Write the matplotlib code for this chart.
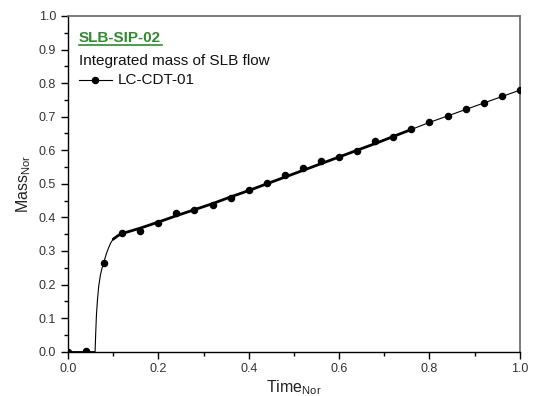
import matplotlib
matplotlib.use("Agg")
import matplotlib.pyplot as plt
from matplotlib.ticker import MultipleLocator

plt.rcParams['font.family'] = ['Liberation Sans', 'DejaVu Sans']
plt.rcParams['mathtext.fontset'] = 'custom'
plt.rcParams['mathtext.rm'] = 'Liberation Sans'

# Marker series (LC-CDT-01)
marker_time = [0.00, 0.04, 0.08, 0.12, 0.16, 0.20, 0.24, 0.28, 0.32, 0.36, 0.40, 0.44, 0.48,
               0.52, 0.56, 0.60, 0.64, 0.68, 0.72, 0.76, 0.80, 0.84, 0.88, 0.92, 0.96, 1.00]
marker_mass = [0.000, 0.002, 0.265, 0.352, 0.360, 0.382, 0.414, 0.421, 0.438, 0.458, 0.483, 0.501, 0.527,
               0.546, 0.568, 0.580, 0.597, 0.628, 0.640, 0.663, 0.684, 0.702, 0.722, 0.741, 0.761, 0.779]

# Integrated mass of SLB flow (continuous curve)
line_time = [0.000, 0.060, 0.0615, 0.063, 0.065, 0.068, 0.072, 0.076, 0.080, 0.085, 0.090, 0.095,
             0.100, 0.110, 0.120, 0.160, 0.200, 0.240, 0.280, 0.320, 0.360, 0.400, 0.440,
             0.480, 0.520, 0.560, 0.600, 0.640, 0.680, 0.720, 0.760, 0.800, 0.900, 1.000]
line_mass = [0.000, 0.000, 0.060, 0.110, 0.150, 0.195, 0.230, 0.252, 0.270, 0.292, 0.310, 0.325,
             0.335, 0.345, 0.352, 0.368, 0.386, 0.405, 0.423, 0.441, 0.461, 0.480, 0.500,
             0.520, 0.540, 0.560, 0.580, 0.600, 0.620, 0.641, 0.662, 0.683, 0.731, 0.779]
noisy_start, noisy_end = 0.10, 0.76

fig = plt.figure(figsize=(5.37, 3.96), dpi=100)
ax = fig.add_axes([0.1266, 0.112, 0.8414, 0.8476])

ax.plot(line_time, line_mass, color='black', lw=0.8, zorder=2)
seg_t = [t for t in line_time if noisy_start <= t <= noisy_end]
seg_m = [m for t, m in zip(line_time, line_mass) if noisy_start <= t <= noisy_end]
ax.plot(seg_t, seg_m, color='black', lw=2.0, solid_capstyle='round', zorder=2)
ax.plot(marker_time, marker_mass, linestyle='none', marker='o', color='black',
        markersize=4.4, zorder=3)

ax.set_xlim(0, 1.0)
ax.set_ylim(0, 1.0)
ax.xaxis.set_major_locator(MultipleLocator(0.2))
ax.xaxis.set_minor_locator(MultipleLocator(0.1))
ax.yaxis.set_major_locator(MultipleLocator(0.1))
ax.yaxis.set_minor_locator(MultipleLocator(0.05))
ax.xaxis.set_major_formatter(matplotlib.ticker.FormatStrFormatter('%.1f'))
ax.yaxis.set_major_formatter(matplotlib.ticker.FormatStrFormatter('%.1f'))
ax.tick_params(which='major', direction='out', length=5, width=1, labelsize=9,
               labelcolor='#333333', color='black')
ax.tick_params(which='minor', direction='out', length=3, width=1, color='black')
for s in ['top', 'right']:
    ax.spines[s].set_color('#666666')
    ax.spines[s].set_linewidth(1.2)
for s in ['left', 'bottom']:
    ax.spines[s].set_color('black')
    ax.spines[s].set_linewidth(1.0)

ax.set_xlabel(r'Time$_{\mathregular{Nor}}$', fontsize=11.5, labelpad=2, color='#222222')
ax.set_ylabel(r'Mass$_{\mathregular{Nor}}$', fontsize=11.5, labelpad=4, color='#222222')

# Legend-like annotations
ax.text(0.024, 0.935, 'SLB-SIP-02', transform=ax.transAxes, fontsize=11, fontweight='bold',
        color='#2e8b2e', va='center', ha='left')
ax.plot([0.024, 0.209], [0.914, 0.914], transform=ax.transAxes, color='#2e8b2e', lw=1.2,
        clip_on=False)
ax.text(0.024, 0.866, 'Integrated mass of SLB flow', transform=ax.transAxes, fontsize=11,
        color='#111111', va='center', ha='left')
ax.plot([0.024, 0.097], [0.808, 0.808], transform=ax.transAxes, color='black', lw=0.8)
ax.plot([0.0605], [0.808], transform=ax.transAxes, marker='o', color='black', markersize=4.4)
ax.text(0.111, 0.808, 'LC-CDT-01', transform=ax.transAxes, fontsize=11,
        color='#111111', va='center', ha='left')

fig.savefig('out.png', dpi=100)
